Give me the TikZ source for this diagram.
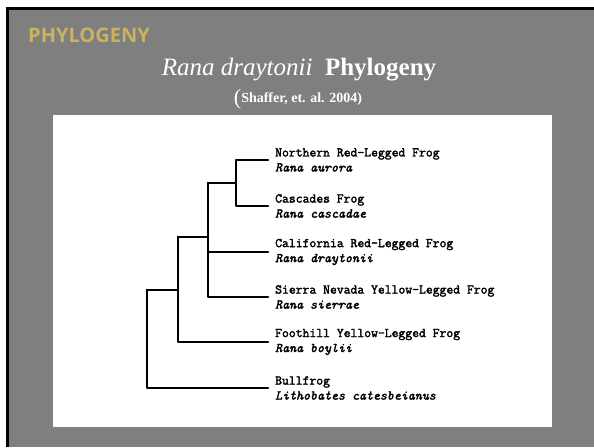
\documentclass[tikz,border=0pt]{standalone}
\usepackage{fontspec}
\setmainfont{Liberation Serif}
\newfontfamily\headf{Open Sans}
\newfontfamily\monob{Latin Modern Mono}[FakeBold=2.2]
\definecolor{slidegray}{HTML}{7F7F7F}
\definecolor{gold}{HTML}{CBB25F}
\begin{document}
\begin{tikzpicture}[x=1pt,y=-1pt,
  branch/.style={line width=2.6pt, line cap=round, line join=round},
  leaf/.style={anchor=west, inner sep=0pt, align=left,
    font=\monob\fontsize{13.3}{15}\selectfont}]
\useasboundingbox (0,0) rectangle (594,447);
\fill[white] (0,0) rectangle (594,447);
\fill[slidegray] (6,7) rectangle (594,447);
\draw[line width=3pt] (7.5,447) -- (7.5,8.5) -- (594,8.5);
\fill[white] (53,115) rectangle (552,427);
% headings
\node[gold, anchor=base west, inner sep=0pt, font=\headf\bfseries\fontsize{20}{22}\selectfont] (hd) at (28,42) {PHYLOGENY};
\node[white, anchor=base, inner sep=0pt, font=\fontsize{25}{28}\selectfont] (title) at (299,75) {\textit{Rana draytonii}\ \ \textbf{Phylogeny}};
\node[white, anchor=base, inner sep=0pt, font=\bfseries\fontsize{14}{16}\selectfont] (sub) at (298,102) {\raisebox{-2pt}{\fontsize{22}{23}\selectfont\mdseries(}Shaffer, et. al. 2004)};
% leaves
\node[leaf] (aur) at (275,160) {Northern Red-Legged Frog\\\textit{Rana aurora}};
\node[leaf] (cas) at (275,206) {Cascades Frog\\\textit{Rana cascadae}};
\node[leaf] (dra) at (275,252) {California Red-Legged Frog\\\textit{Rana draytonii}};
\node[leaf] (sie) at (275,297) {Sierra Nevada Yellow-Legged Frog\\\textit{Rana sierrae}};
\node[leaf] (boy) at (275,342) {Foothill Yellow-Legged Frog\\\textit{Rana boylii}};
\node[leaf] (bul) at (275,388) {Bullfrog\\\textit{Lithobates catesbeianus}};
% internal nodes
\coordinate (n1) at (236,183);
\coordinate (n2) at (208,237);
\coordinate (n3) at (178,290);
\coordinate (n4) at (147,339);
% branches
\draw[branch] ([xshift=-7pt]aur.west) -| (n1) |- ([xshift=-7pt]cas.west);
\draw[branch] (n1) -- (n1 -| n2);
\draw[branch] (n2 |- n1) |- ([xshift=-7pt]sie.west);
\draw[branch] (n2) |- ([xshift=-7pt]dra.west);
\draw[branch] (n2) -- (n2 -| n3);
\draw[branch] (n3 |- n2) |- ([xshift=-7pt]boy.west);
\draw[branch] (n3) -- (n3 -| n4);
\draw[branch] (n4 |- n3) |- ([xshift=-7pt]bul.west);
\end{tikzpicture}
\end{document}
